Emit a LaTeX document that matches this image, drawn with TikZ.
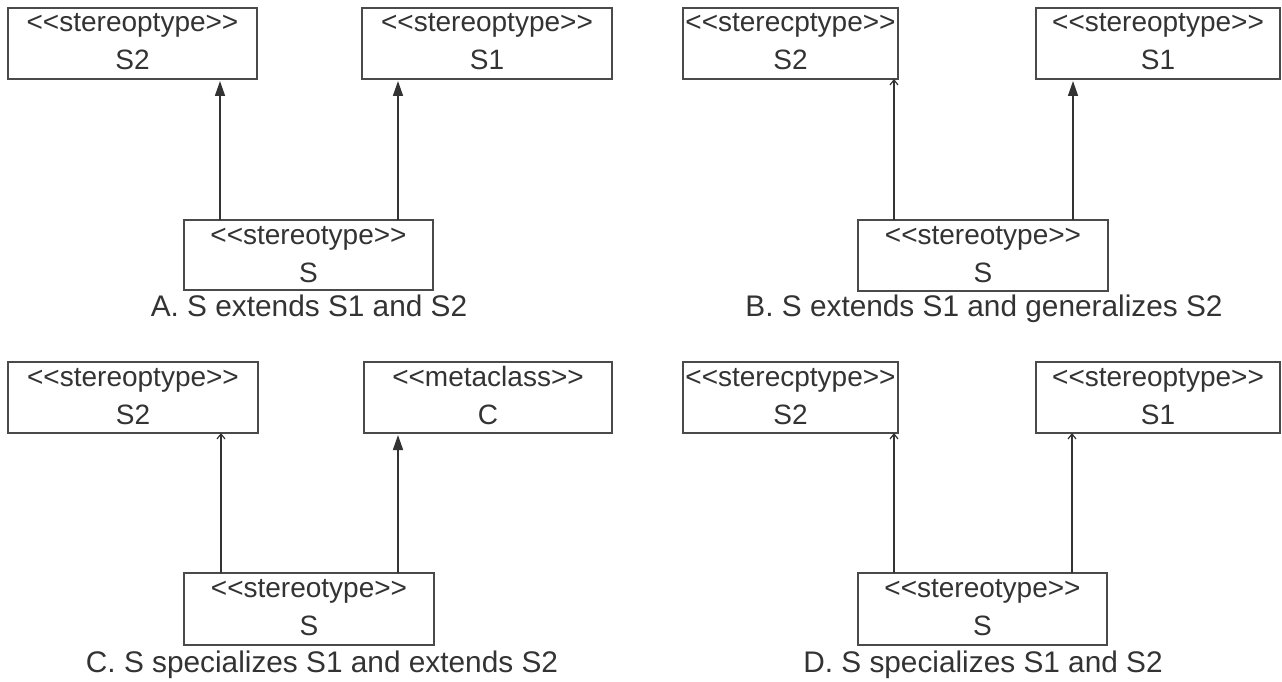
\documentclass[tikz,border=0pt]{standalone}
\usepackage{fontspec}
\setmainfont{Liberation Sans}
\usetikzlibrary{arrows.meta,calc}
\definecolor{ink}{HTML}{333333}
\definecolor{edgegray}{HTML}{4A4A4A}
\newcommand\gl{<\kern0pt<}
\newcommand\gr{>\kern0pt>}
\newcommand\umlnode[7]{%
  \node[umlbox,minimum width={#4-#2},minimum height={#5-#3}] (#1) at ({(#2+#4)/2},{(#3+#5)/2}) {};
  \node[lbl] (#1-st) at ($(#1.north)+(0,24)$) {#6};
  \node[lbl] (#1-nm) at ($(#1.north)+(0,62)$) {#7};}
\begin{document}
\begin{tikzpicture}[x=1pt,y=-1pt,
  umlbox/.style={draw=edgegray,line width=2.2pt,fill=white,inner sep=0pt,outer sep=0pt},
  lbl/.style={text=ink,font=\fontsize{28}{28}\selectfont,inner sep=0pt,anchor=base},
  captext/.style={text=ink,font=\fontsize{29.8}{29.8}\selectfont,inner sep=0pt,anchor=base},
  ext/.style={draw=ink,line width=1.6pt,shorten >=2pt,-{Triangle[length=15pt,width=10pt]}},
  gen/.style={draw=ink,line width=1.2pt,-{Straight Barb[length=5pt,width=8pt]}}]
\useasboundingbox[fill=white] (0,0) rectangle (1282,682);

% ---------- A ----------
\umlnode{aS2}{8}{8}{257}{79}{\gl stereoptype\gr}{S2}
\umlnode{aS1}{362}{8}{612}{79}{\gl stereoptype\gr}{S1}
\umlnode{aS}{184}{220}{433}{290}{\gl stereotype\gr}{S}
\node[captext] (capA) at (309,316) {A. S extends S1 and S2};
\coordinate (xa1) at (220,0);
\coordinate (xa2) at (398,0);
\draw[ext] (aS.north -| xa1) -- (aS2.south -| xa1);
\draw[ext] (aS.north -| xa2) -- (aS1.south -| xa2);

% ---------- B ----------
\umlnode{bS2}{683}{8}{898}{79}{\gl sterecptype\gr}{S2}
\umlnode{bS1}{1036}{8}{1280}{79}{\gl stereoptype\gr}{S1}
\umlnode{bS}{858}{220}{1108}{291}{\gl stereotype\gr}{S}
\node[captext] (capB) at (984,316) {B. S extends S1 and generalizes S2};
\coordinate (xb1) at (894,0);
\coordinate (xb2) at (1073,0);
\draw[gen] (bS.north -| xb1) -- (bS2.south -| xb1);
\draw[ext] (bS.north -| xb2) -- (bS1.south -| xb2);

% ---------- C ----------
\umlnode{cS2}{8}{362}{258}{433}{\gl stereoptype\gr}{S2}
\umlnode{cC}{364}{362}{612}{433}{\gl metaclass\gr}{C}
\umlnode{cS}{184}{573}{434}{645}{\gl stereotype\gr}{S}
\node[captext] (capC) at (322,672) {C. S specializes S1 and extends S2};
\coordinate (xc1) at (221,0);
\coordinate (xc2) at (398,0);
\draw[gen] (cS.north -| xc1) -- (cS2.south -| xc1);
\draw[ext] (cS.north -| xc2) -- (cC.south -| xc2);

% ---------- D ----------
\umlnode{dS2}{683}{362}{898}{433}{\gl sterecptype\gr}{S2}
\umlnode{dS1}{1036}{362}{1280}{433}{\gl stereoptype\gr}{S1}
\umlnode{dS}{858}{573}{1107}{645}{\gl stereotype\gr}{S}
\node[captext] (capD) at (983,672) {D. S specializes S1 and S2};
\coordinate (xd1) at (894,0);
\coordinate (xd2) at (1072,0);
\draw[gen] (dS.north -| xd1) -- (dS2.south -| xd1);
\draw[gen] (dS.north -| xd2) -- (dS1.south -| xd2);
\end{tikzpicture}
\end{document}
